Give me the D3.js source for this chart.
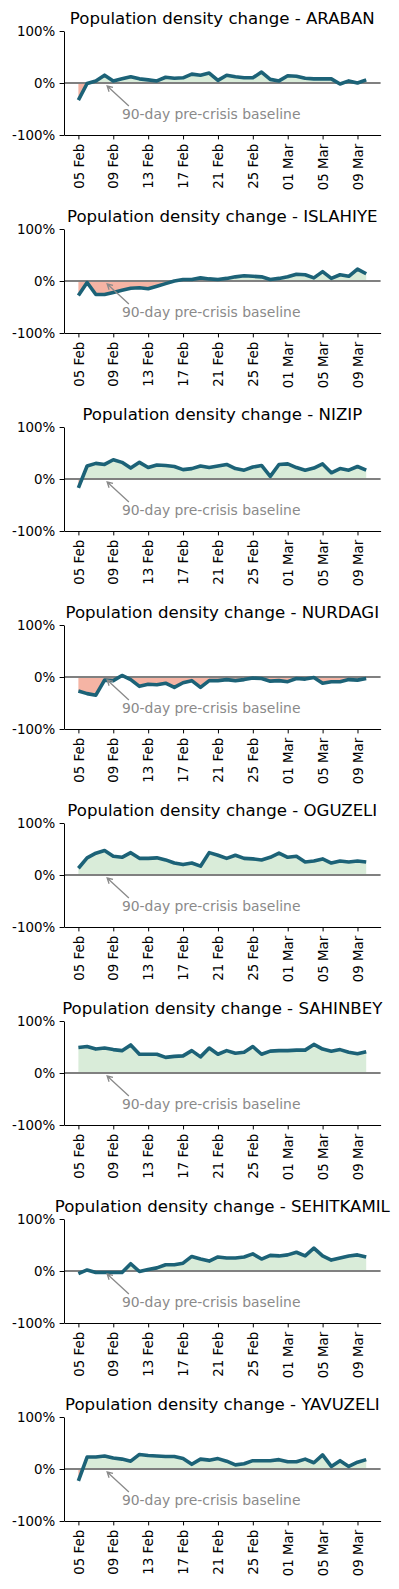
<!DOCTYPE html>
<html>
<head>
<meta charset="utf-8">
<script src="https://cdn.jsdelivr.net/npm/d3@7"></script>
<style>
  body { margin: 0; background: #fff; }
  svg { display: block; font-family: "DejaVu Sans", sans-serif; }
</style>
</head>
<body>
<script>
// daily observations, 05 Feb -> 10 Mar 2023
const dates = [
  "2023-02-05", "2023-02-06", "2023-02-07", "2023-02-08", "2023-02-09", "2023-02-10",
  "2023-02-11", "2023-02-12", "2023-02-13", "2023-02-14", "2023-02-15", "2023-02-16",
  "2023-02-17", "2023-02-18", "2023-02-19", "2023-02-20", "2023-02-21", "2023-02-22",
  "2023-02-23", "2023-02-24", "2023-02-25", "2023-02-26", "2023-02-27", "2023-02-28",
  "2023-03-01", "2023-03-02", "2023-03-03", "2023-03-04", "2023-03-05", "2023-03-06",
  "2023-03-07", "2023-03-08", "2023-03-09", "2023-03-10"
];

const districts = ["ARABAN", "ISLAHIYE", "NIZIP", "NURDAGI", "OGUZELI", "SAHINBEY", "SEHITKAMIL", "YAVUZELI"];

// % change vs 90-day baseline
const araban     = [-33, -1, 4, 15, 4, 8, 12, 8, 6, 4, 11, 9, 10, 17, 15, 19, 5, 15, 12, 10, 10, 21, 7, 4, 14, 13, 9, 8, 8, 8, -2, 4, 0, 6];
const islahiye   = [-28, -3, -26, -26, -22, -18, -14, -13, -15, -10, -5, 0, 3, 3, 6, 4, 3, 5, 8, 10, 9, 8, 3, 5, 8, 13, 12, 6, 18, 5, 12, 9, 23, 14];
const nizip      = [-17, 25, 30, 28, 37, 32, 21, 32, 22, 27, 26, 24, 18, 20, 25, 22, 25, 28, 20, 17, 23, 26, 5, 28, 29, 22, 17, 21, 29, 12, 20, 17, 24, 17];
const nurdagi    = [-27, -32, -35, -6, -7, 3, -5, -18, -14, -15, -12, -20, -11, -7, -20, -7, -7, -5, -7, -5, -2, -3, -8, -7, -9, -3, -4, -1, -12, -9, -9, -5, -6, -3];
const oguzeli    = [13, 33, 42, 47, 36, 34, 43, 32, 32, 33, 29, 23, 20, 23, 17, 43, 38, 32, 38, 32, 31, 29, 34, 42, 34, 36, 25, 27, 31, 23, 27, 25, 27, 25];
const sahinbey   = [49, 51, 46, 48, 45, 43, 54, 36, 36, 36, 30, 32, 33, 43, 31, 48, 36, 43, 38, 40, 51, 36, 42, 43, 43, 44, 44, 55, 46, 42, 45, 40, 37, 41];
const sehitkamil = [-5, 2, -3, -3, -3, -3, 14, -1, 3, 6, 12, 12, 15, 28, 23, 19, 27, 25, 25, 27, 33, 23, 30, 29, 31, 36, 29, 44, 29, 21, 25, 29, 31, 27];
const yavuzeli   = [-23, 23, 23, 25, 21, 19, 15, 28, 26, 25, 24, 24, 20, 9, 19, 17, 20, 15, 8, 10, 16, 16, 16, 18, 14, 14, 19, 12, 27, 5, 16, 5, 13, 18];

const seriesList = [araban, islahiye, nizip, nurdagi, oguzeli, sahinbey, sehitkamil, yavuzeli];

const yTicks = [-100, 0, 100];
const yTickLabels = ["-100%", "0%", "100%"];
const xTickDates = ["2023-02-05", "2023-02-09", "2023-02-13", "2023-02-17", "2023-02-21", "2023-02-25", "2023-03-01", "2023-03-05", "2023-03-09"];
const annotationText = "90-day pre-crisis baseline";

const width = 399, height = 1589;
const margin = { left: 64, right: 18.4 };
const panelTop = 31, panelStep = 198, plotH = 104;

const lineColor = "#1c6277";
const posFill = "#d9ecd9";
const negFill = "#f5b4a4";
const tickFont = 13.4;

const parse = d3.utcParse("%Y-%m-%d");
const days = dates.map(parse);
const pad = 1.65 * 864e5; // matplotlib 5% margins

const x = d3.scaleUtc()
  .domain([+days[0] - pad, +days[days.length - 1] + pad])
  .range([margin.left, width - margin.right]);

const svg = d3.select("body").append("svg")
  .attr("width", width)
  .attr("height", height)
  .attr("viewBox", [0, 0, width, height]);

districts.forEach((name, i) => {
  const top = panelTop + i * panelStep;
  const y = d3.scaleLinear().domain([-100, 100]).range([top + plotH, top]);
  const vals = seriesList[i];
  const pts = vals.map((v, j) => ({ d: days[j], v }));
  const g = svg.append("g");

  // clip areas above / below zero
  const clipUp = "clipUp" + i, clipDn = "clipDn" + i;
  svg.append("clipPath").attr("id", clipUp).append("rect")
    .attr("x", margin.left).attr("y", top)
    .attr("width", width - margin.right - margin.left).attr("height", y(0) - top);
  svg.append("clipPath").attr("id", clipDn).append("rect")
    .attr("x", margin.left).attr("y", y(0))
    .attr("width", width - margin.right - margin.left).attr("height", top + plotH - y(0));

  const area = d3.area().x(p => x(p.d)).y0(y(0)).y1(p => y(p.v));
  g.append("path").datum(pts).attr("d", area).attr("fill", posFill).attr("clip-path", `url(#${clipUp})`);
  g.append("path").datum(pts).attr("d", area).attr("fill", negFill).attr("clip-path", `url(#${clipDn})`);

  // baseline
  g.append("line")
    .attr("x1", margin.left).attr("x2", width - margin.right)
    .attr("y1", y(0)).attr("y2", y(0))
    .attr("stroke", "#808080").attr("stroke-width", 2);

  // series line
  g.append("path").datum(pts)
    .attr("d", d3.line().x(p => x(p.d)).y(p => y(p.v)))
    .attr("fill", "none")
    .attr("stroke", lineColor)
    .attr("stroke-width", 3.6)
    .attr("stroke-linejoin", "round")
    .attr("stroke-linecap", "butt");

  // annotation + arrow
  const tipX = x(parse("2023-02-08")) + 2.6, tipY = y(0) + 3;
  const fromX = x(parse("2023-02-09")) + 15.6, fromY = y(0) + 23;
  const ang = Math.atan2(fromY - tipY, fromX - tipX);
  const hl = 6, hw = 0.5;
  g.append("path")
    .attr("d", `M${fromX},${fromY}L${tipX},${tipY}` +
      `M${tipX + hl * Math.cos(ang + hw)},${tipY + hl * Math.sin(ang + hw)}L${tipX},${tipY}` +
      `L${tipX + hl * Math.cos(ang - hw)},${tipY + hl * Math.sin(ang - hw)}`)
    .attr("fill", "none").attr("stroke", "#8a8a8a").attr("stroke-width", 1.3);
  g.append("text")
    .attr("x", x(parse("2023-02-09")) + 8.6)
    .attr("y", y(0) + 36)
    .attr("font-size", 13.9)
    .attr("fill", "#8a8a8a")
    .text(annotationText);

  // axes
  const yAxis = g.append("g")
    .attr("transform", `translate(${margin.left},0)`)
    .call(d3.axisLeft(y).tickValues(yTicks).tickFormat((d, k) => yTickLabels[k]).tickSize(4.4).tickPadding(4.4).tickSizeOuter(0));
  yAxis.selectAll("text").attr("font-size", tickFont).attr("font-family", "DejaVu Sans").attr("fill", "#000");

  const xAxis = g.append("g")
    .attr("transform", `translate(0,${top + plotH})`)
    .call(d3.axisBottom(x).tickValues(xTickDates.map(parse)).tickFormat(d3.utcFormat("%d %b")).tickSize(4.4).tickSizeOuter(0));
  xAxis.selectAll("text")
    .attr("font-size", tickFont)
    .attr("font-family", "DejaVu Sans")
    .attr("fill", "#000")
    .attr("text-anchor", "end")
    .attr("transform", "rotate(-90)")
    .attr("x", -8.8)
    .attr("y", 0)
    .attr("dy", "0.35em");
  g.selectAll(".domain").attr("stroke", "#000").attr("stroke-width", 1);

  // title
  g.append("text")
    .attr("x", (margin.left + width - margin.right) / 2)
    .attr("y", top - 7)
    .attr("text-anchor", "middle")
    .attr("font-size", 16.6)
    .attr("fill", "#000")
    .text("Population density change - " + name);
});
</script>
</body>
</html>
